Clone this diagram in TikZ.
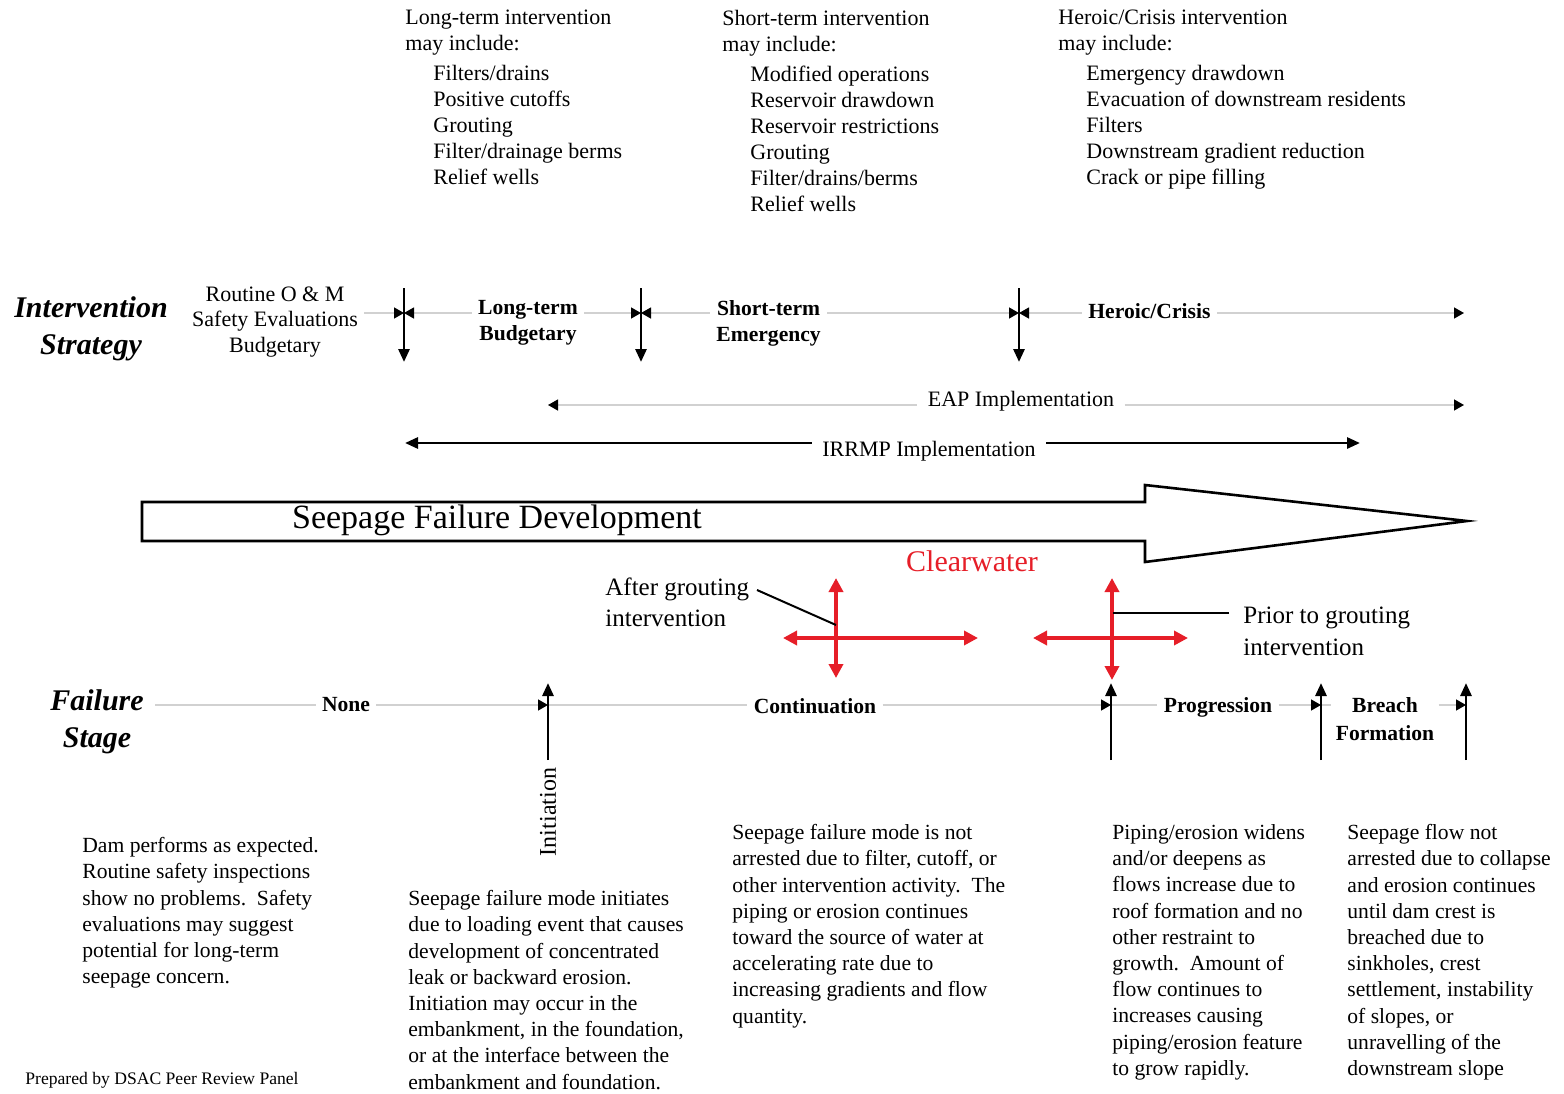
\documentclass[tikz,border=0pt]{standalone}
\usepackage{fontspec}
\setmainfont{Liberation Serif}
\usetikzlibrary{arrows.meta}
\definecolor{cwred}{RGB}{230,30,40}

\begin{document}
\begin{tikzpicture}[x=0.5pt,y=-0.5pt,
    txt/.style={inner sep=0pt, font=\fontsize{10.8}{13.1}\selectfont, align=left, anchor=north west},
    toptxt/.style={inner sep=0pt, font=\fontsize{11}{13}\selectfont, align=left, anchor=north west},
    rowtitle/.style={inner sep=0pt, font=\fontsize{15}{18.5}\selectfont\bfseries\itshape, align=center},
    stage/.style={inner sep=3pt, font=\fontsize{10.8}{13}\selectfont\bfseries, align=center},
    note/.style={inner sep=0pt, font=\fontsize{12.5}{15.7}\selectfont, align=left, anchor=north west},
    guide/.style={draw=black!18, line width=0.7pt},
    guidetip/.tip={Triangle[length=5pt,width=5.5pt,color=black]},
    tick/.style={line width=1.4pt, -{Triangle[length=6.5pt,width=5.5pt]}},
    cross/.style={draw=cwred, line width=2.2pt, {Triangle[length=7pt,width=7pt]}-{Triangle[length=7pt,width=7pt]}},
  ]
  \useasboundingbox (0,0) rectangle (1564,1093);

  % intervention lists
  \node[toptxt] (ltlist) at (405,10) {Long-term intervention\\may include:\\[2pt]
    \hspace*{14pt}Filters/drains\\\hspace*{14pt}Positive cutoffs\\\hspace*{14pt}Grouting\\
    \hspace*{14pt}Filter/drainage berms\\\hspace*{14pt}Relief wells};
  \node[toptxt] (stlist) at (722,10) {Short-term intervention\\may include:\\[2pt]
    \hspace*{14pt}Modified operations\\\hspace*{14pt}Reservoir drawdown\\\hspace*{14pt}Reservoir restrictions\\
    \hspace*{14pt}Grouting\\\hspace*{14pt}Filter/drains/berms\\\hspace*{14pt}Relief wells};
  \node[toptxt] (hclist) at (1058,10) {Heroic/Crisis intervention\\may include:\\[2pt]
    \hspace*{14pt}Emergency drawdown\\\hspace*{14pt}Evacuation of downstream residents\\\hspace*{14pt}Filters\\
    \hspace*{14pt}Downstream gradient reduction\\\hspace*{14pt}Crack or pipe filling};

  % intervention strategy row
  \node[rowtitle] (istitle) at (91,329) {Intervention\\Strategy};
  \node[inner sep=3pt, font=\fontsize{11}{12.75}\selectfont, align=center] (routine) at (275,322)
    {Routine O \& M\\Safety Evaluations\\Budgetary};
  \coordinate (t1) at (404,313);
  \node[stage] (ltb) at (528,323) {Long-term\\Budgetary};
  \coordinate (t2) at (641,313);
  \node[stage, anchor=west] (ste) at (710,323) {Short-term\\Emergency};
  \coordinate (t3) at (1019,313);
  \node[stage, anchor=west] (hc) at (1082,311) {Heroic/Crisis};
  \coordinate (isend) at (1464,313);

  \draw[guide, -guidetip] (routine.east |- t1) -- (t1);
  \draw[guide, guidetip-] (t1) -- (ltb.west |- t1);
  \draw[guide, -guidetip] (ltb.east |- t2) -- (t2);
  \draw[guide, guidetip-] (t2) -- (ste.west |- t2);
  \draw[guide, -guidetip] (ste.east |- t3) -- (t3);
  \draw[guide, guidetip-] (t3) -- (hc.west |- t3);
  \draw[guide, -guidetip] (hc.east |- isend) -- (isend);
  \foreach \t in {t1,t2,t3}
    \draw[tick] (\t) ++(0,-25) -- ++(0,74);

  % implementation spans
  \node[inner sep=5pt, font=\fontsize{11}{13}\selectfont] (eap) at (1021,401) {EAP Implementation};
  \coordinate (eapl) at (548,405);
  \coordinate (eapr) at (1464,405);
  \draw[guide, guidetip-] (eapl) -- (eap.west |- eapl);
  \draw[guide, -guidetip] (eap.east |- eapr) -- (eapr);

  \node[inner sep=5pt, font=\fontsize{11}{13}\selectfont] (irrmp) at (929,451) {IRRMP Implementation};
  \coordinate (irl) at (405,443);
  \coordinate (irr) at (1360,443);
  \draw[line width=1.4pt, {Triangle[length=6.5pt,width=5.5pt]}-] (irl) -- (irrmp.west |- irl);
  \draw[line width=1.4pt, -{Triangle[length=6.5pt,width=5.5pt]}] (irrmp.east |- irr) -- (irr);

  % big arrow
  \draw[line width=1.3pt, fill=white] (142,502) -- (1145,502) -- (1145,485) -- (1467,521)
    -- (1145,562) -- (1145,541) -- (142,541) -- cycle;
  \node[font=\fontsize{17}{20}\selectfont] (sfd) at (497,520) {Seepage Failure Development};

  % clearwater
  \node[text=cwred, font=\fontsize{15}{18}\selectfont] (cw) at (972,561) {Clearwater};
  \coordinate (ca) at (836,638);
  \coordinate (cb) at (1112,638);
  \draw[cross] (ca) ++(0,-60) -- ++(0,100);
  \draw[cross] (ca) ++(-53,0) -- ++(195,0);
  \draw[cross] (cb) ++(0,-60) -- ++(0,102);
  \draw[cross] (cb) ++(-79,0) -- ++(155,0);

  \node[note] (after) at (605,577) {After grouting\\intervention};
  \coordinate (afterend) at (757,590);
  \coordinate (afterpt) at (836,625);
  \draw[line width=1pt] (afterend) -- (afterpt);
  \node[note] (prior) at (1243,607) {Prior to grouting\\intervention};
  \coordinate (priorend) at (1229,613);
  \coordinate (priorpt) at (1113,613);
  \draw[line width=1pt] (priorend) -- (priorpt);

  % failure stage row
  \node[rowtitle] (fstitle) at (97,722) {Failure\\Stage};
  \coordinate (fsstart) at (155,705);
  \node[stage] (none) at (346,705) {None};
  \coordinate (f1) at (548,705);
  \node[stage] (cont) at (815,706) {Continuation};
  \coordinate (f2) at (1111,705);
  \node[stage] (prog) at (1218,707) {Progression};
  \coordinate (f3) at (1321,705);
  \node[stage, inner sep=2pt, font=\fontsize{10.8}{14}\selectfont\bfseries] (breach) at (1385,719) {Breach\\Formation};
  \coordinate (f4) at (1466,705);

  \draw[guide] (fsstart) -- (none);
  \draw[guide, -guidetip] (none) -- (f1);
  \draw[guide] (f1) -- (cont.west |- f1);
  \draw[guide, -guidetip] (cont.east |- f2) -- (f2);
  \draw[guide] (f2) -- (prog.west |- f2);
  \draw[guide, -guidetip] (prog.east |- f3) -- (f3);
  \draw[guide] (f3) -- (breach.west |- f3);
  \draw[guide, -guidetip] (breach.east |- f4) -- (f4);
  \foreach \f in {f1,f2,f3,f4}
    \draw[tick] (\f) ++(0,55) -- ++(0,-77);
  \node[rotate=90, inner sep=0pt, font=\fontsize{12}{14}\selectfont] (init) at (548,812) {Initiation};

  % stage descriptions
  \node[txt] (dnone) at (82,837) {Dam performs as expected.\\Routine safety inspections\\
    show no problems.\ \ Safety\\evaluations may suggest\\potential for long-term\\seepage concern.};
  \node[txt] (dinit) at (408,890) {Seepage failure mode initiates\\due to loading event that causes\\
    development of concentrated\\leak or backward erosion.\\Initiation may occur in the\\
    embankment, in the foundation,\\or at the interface between the\\embankment and foundation.};
  \node[txt] (dcont) at (732,824) {Seepage failure mode is not\\arrested due to filter, cutoff, or\\
    other intervention activity.\ \ The\\piping or erosion continues\\toward the source of water at\\
    accelerating rate due to\\increasing gradients and flow\\quantity.};
  \node[txt] (dprog) at (1112,824) {Piping/erosion widens\\and/or deepens as\\flows increase due to\\
    roof formation and no\\other restraint to\\growth.\ \ Amount of\\flow continues to\\
    increases causing\\piping/erosion feature\\to grow rapidly.};
  \node[txt] (dbreach) at (1347,824) {Seepage flow not\\arrested due to collapse\\and erosion continues\\
    until dam crest is\\breached due to\\sinkholes, crest\\settlement, instability\\
    of slopes, or\\unravelling of the\\downstream slope};

  \node[inner sep=0pt, anchor=west, font=\fontsize{8.8}{10}\selectfont] (prep) at (25,1080) {Prepared by DSAC Peer Review Panel};
\end{tikzpicture}
\end{document}
